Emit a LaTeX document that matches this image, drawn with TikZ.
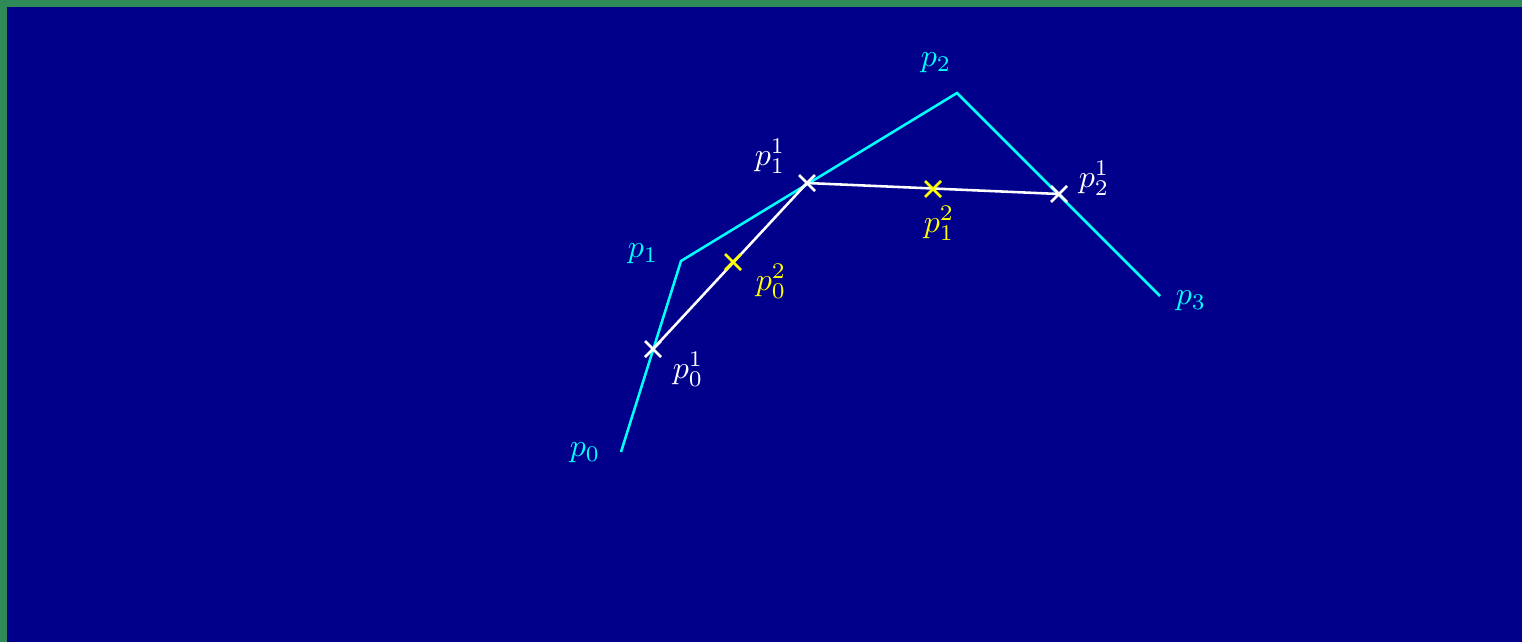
\documentclass[tikz,border=0pt]{standalone}
\usetikzlibrary{shapes.misc}
\definecolor{bgblue}{RGB}{0,0,139}
\definecolor{edgegreen}{RGB}{46,139,87}
\definecolor{polycyan}{RGB}{0,255,255}
\definecolor{markyellow}{RGB}{255,255,0}
\tikzset{
    poly/.style={draw=polycyan, line width=0.8pt},
    hull/.style={draw=white, line width=0.8pt},
    mark1/.style={cross out, draw=white, line width=0.8pt, minimum size=4.2pt, inner sep=0pt},
    mark2/.style={cross out, draw=markyellow, line width=0.8pt, minimum size=4.2pt, inner sep=0pt},
    lbl/.style={inner sep=0pt}
}
\begin{document}
\begin{tikzpicture}[x=0.3125pt, y=0.3125pt]
    % background
    \fill[edgegreen] (0,0) rectangle (1522,642);
    \fill[bgblue] (7,0) rectangle (1522,635);
    \useasboundingbox (0,0) rectangle (1522,642);

    % control points
    \coordinate (p0) at (621,190);
    \coordinate (p1) at (681,381);
    \coordinate (p2) at (957,549);
    \coordinate (p3) at (1160,346);

    % first and second level points
    \coordinate (c01) at (653,293);
    \coordinate (c11) at (807,459);
    \coordinate (c21) at (1059,448);
    \coordinate (c02) at (733,380);
    \coordinate (c12) at (933,453);

    % polygons
    \draw[poly] (p0) -- (p1) -- (p2) -- (p3);
    \draw[hull] (c01) -- (c11) -- (c21);

    % marks
    \node[mark1] (p01) at (c01) {};
    \node[mark1] (p11) at (c11) {};
    \node[mark1] (p21) at (c21) {};
    \node[mark2] (p02) at (c02) {};
    \node[mark2] (p12) at (c12) {};

    % labels
    \node[lbl, text=polycyan] (lp0) at ([shift={(-36,-1)}]p0) {$p_0$};
    \node[lbl, text=polycyan] (lp1) at ([shift={(-38,7)}]p1) {$p_1$};
    \node[lbl, text=polycyan] (lp2) at ([shift={(-21,30)}]p2) {$p_2$};
    \node[lbl, text=polycyan] (lp3) at ([shift={(31,-5)}]p3) {$p_3$};
    \node[lbl, text=white] (lp01) at ([shift={(35,-20)}]p01) {$p_0^1$};
    \node[lbl, text=white] (lp11) at ([shift={(-37,27)}]p11) {$p_1^1$};
    \node[lbl, text=white] (lp21) at ([shift={(35,16)}]p21) {$p_2^1$};
    \node[lbl, text=markyellow] (lp02) at ([shift={(38,-19)}]p02) {$p_0^2$};
    \node[lbl, text=markyellow] (lp12) at ([shift={(6,-34)}]p12) {$p_1^2$};
\end{tikzpicture}
\end{document}
